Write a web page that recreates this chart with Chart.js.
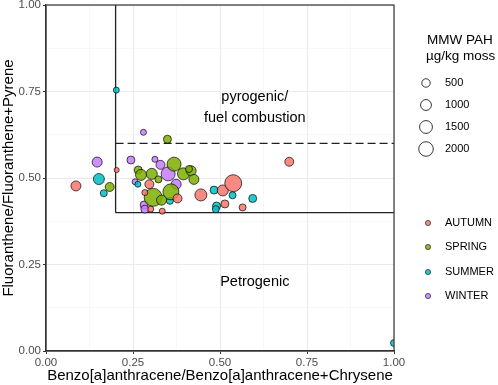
<!DOCTYPE html>
<html><head><meta charset="utf-8">
<script src="https://cdn.jsdelivr.net/npm/chart.js@4"></script>
<style>html,body{margin:0;padding:0;background:#fff}#wrap{width:498px;height:385px;position:relative}</style>
</head><body><div id="wrap"><canvas id="c" width="498" height="385"></canvas></div>
<script>
const seasons = ['AUTUMN','SPRING','SUMMER','WINTER'];
const seasonColors = ['rgba(248,118,109,0.85)','rgba(124,174,0,0.85)','rgba(0,191,196,0.85)','rgba(199,124,255,0.85)'];

const autumnX = [0.086,0.203,0.297,0.284,0.378,0.301,0.334,0.445,0.508,0.538,0.514,0.565,0.699];
const autumnY = [0.477,0.523,0.482,0.458,0.441,0.410,0.404,0.451,0.464,0.485,0.425,0.415,0.547];
const autumnMMW = [810,20,600,130,600,130,130,1280,1030,2800,425,270,600];

const springX = [0.183,0.349,0.265,0.273,0.304,0.368,0.395,0.417,0.425,0.323,0.359,0.308,0.332,0.411];
const springY = [0.474,0.612,0.523,0.509,0.512,0.540,0.512,0.521,0.496,0.496,0.460,0.444,0.436,0.526];
const springMMW = [600,425,425,1030,1030,1830,1280,810,810,270,2470,3190,810,270];

const summerX = [0.202,0.152,0.166,0.264,0.356,0.483,0.536,0.490,0.488,0.594,1.000];
const summerY = [0.754,0.497,0.456,0.482,0.434,0.465,0.450,0.419,0.410,0.441,0.023];
const summerMMW = [130,1030,270,130,270,425,270,425,270,425,270];

const winterX = [0.147,0.244,0.280,0.313,0.329,0.351,0.256,0.374,0.282,0.284];
const winterY = [0.546,0.552,0.632,0.554,0.538,0.512,0.489,0.482,0.422,0.410];
const winterMMW = [810,425,130,130,600,1830,130,810,425,425];

const sizeBreaks = [500,1000,1500,2000];
const xTicks = [0,0.25,0.5,0.75,1];
const yTicks = [0,0.25,0.5,0.75,1];

const lineVertX = [0.2,0.2], lineVertY = [0.4,1.0];
const lineLowX = [0.2,1.0], lineLowY = [0.4,0.4];
const lineDashX = [0.2,1.0], lineDashY = [0.6,0.6];

const labelPyro = ['pyrogenic/','fuel combustion'];
const labelPyroX = 0.6, labelPyroY = [0.733,0.672];
const labelPetro = 'Petrogenic', labelPetroX = 0.6, labelPetroY = 0.199;

function rad(v){ return Math.sqrt(6 + 0.0235*v); }
function pts(xs,ys,vs){ return xs.map((x,i)=>({x:x,y:ys[i],v:vs[i]})); }
function lp(xs,ys){ return xs.map((x,i)=>({x:x,y:ys[i]})); }

const series = [[autumnX,autumnY,autumnMMW],[springX,springY,springMMW],[summerX,summerY,summerMMW],[winterX,winterY,winterMMW]];
const datasets = series.map((s,i)=>({
  type:'scatter', label:seasons[i], data:pts(s[0],s[1],s[2]),
  backgroundColor:seasonColors[i], borderColor:'rgba(0,0,0,0.85)', borderWidth:0.8,
  pointRadius:(c)=>c.raw?rad(c.raw.v):3, pointHoverRadius:(c)=>c.raw?rad(c.raw.v):3, clip:0
}));
const lineStyle = {type:'line', borderColor:'#222', borderWidth:1.3, pointRadius:0, fill:false, clip:false};
datasets.push(Object.assign({}, lineStyle, {data:lp(lineVertX,lineVertY)}));
datasets.push(Object.assign({}, lineStyle, {data:lp(lineLowX,lineLowY)}));
datasets.push(Object.assign({}, lineStyle, {data:lp(lineDashX,lineDashY), borderDash:[8,4]}));

const FONT = "'Liberation Sans', Arial, sans-serif";

const overlay = {
  id:'overlay',
  afterDraw(chart){
    const ctx = chart.ctx, a = chart.chartArea, xs = chart.scales.x, ys = chart.scales.y;
    ctx.save();
    ctx.strokeStyle = '#333'; ctx.lineWidth = 1.2;
    ctx.strokeRect(a.left, a.top, a.right-a.left, a.bottom-a.top);
    ctx.fillStyle = '#000'; ctx.font = '14.5px '+FONT; ctx.textAlign='center'; ctx.textBaseline='middle';
    labelPyro.forEach((t,i)=>ctx.fillText(t, xs.getPixelForValue(labelPyroX), ys.getPixelForValue(labelPyroY[i])));
    ctx.fillText(labelPetro, xs.getPixelForValue(labelPetroX), ys.getPixelForValue(labelPetroY));
    // size legend
    ctx.textAlign='left';
    ctx.font = '13.5px '+FONT;
    ctx.fillText('MMW PAH', 427, 40);
    ctx.fillText('\u00b5g/kg moss', 426, 56);
    ctx.font = '11px '+FONT;
    const sy = [83,105,127,149];
    sizeBreaks.forEach((b,i)=>{
      ctx.beginPath(); ctx.arc(426, sy[i], rad(b), 0, Math.PI*2);
      ctx.strokeStyle='#222'; ctx.lineWidth=0.9; ctx.stroke();
      ctx.fillStyle='#000'; ctx.fillText(String(b), 445, sy[i]);
    });
    const cy = [223,247,272,296];
    seasons.forEach((s,i)=>{
      ctx.beginPath(); ctx.arc(428, cy[i], 2.6, 0, Math.PI*2);
      ctx.fillStyle=seasonColors[i]; ctx.fill(); ctx.strokeStyle='#222'; ctx.lineWidth=0.7; ctx.stroke();
      ctx.fillStyle='#000'; ctx.fillText(s, 445, cy[i]);
    });
    ctx.restore();
  }
};

function isMajor(v){ return Math.abs(v*4 - Math.round(v*4)) < 1e-6; }
function scaleOpts(title, ticks){
  return {
    type:'linear', min:0, max:1,
    afterBuildTicks(s){ const t=[]; for(let i=0;i<=8;i++) t.push({value:i/8}); s.ticks=t; },
    ticks:{ color:'#4d4d4d', font:{family:FONT, size:11.5}, padding:2,
      callback:(v)=> ticks.some(t=>Math.abs(t-v)<1e-6) ? v.toFixed(2) : '' , autoSkip:false, maxRotation:0},
    grid:{ color:(c)=> isMajor(c.tick.value)?'#ebebeb':'#f4f4f4', lineWidth:(c)=> isMajor(c.tick.value)?1:0.6,
      tickLength:3, tickColor:(c)=> isMajor(c.tick.value)?'#333':'rgba(0,0,0,0)', tickWidth:1 },
    border:{ display:true, color:'#333', width:1.2 },
    title:{ display:true, text:title, color:'#000', font:{family:FONT, size:15}, padding:{top:0,bottom:0} }
  };
}
const xOpt = scaleOpts('Benzo[a]anthracene/Benzo[a]anthracene+Chrysene', xTicks);
xOpt.afterFit = (s)=>{ s.height = 34; s.paddingLeft = 0; s.paddingRight = 0; };
const yOpt = scaleOpts('Fluoranthene/Fluoranthene+Pyrene', yTicks);
yOpt.afterFit = (s)=>{ s.width = 46; s.paddingTop = 0; s.paddingBottom = 0; };

new Chart(document.getElementById('c'), {
  data:{ datasets },
  options:{
    responsive:false, animation:false, devicePixelRatio:1,
    layout:{ autoPadding:false, padding:{ left:0, right:104, top:5, bottom:0 } },
    plugins:{ legend:{display:false}, tooltip:{enabled:false} },
    scales:{ x:xOpt, y:yOpt }
  },
  plugins:[overlay]
});
</script></body></html>
